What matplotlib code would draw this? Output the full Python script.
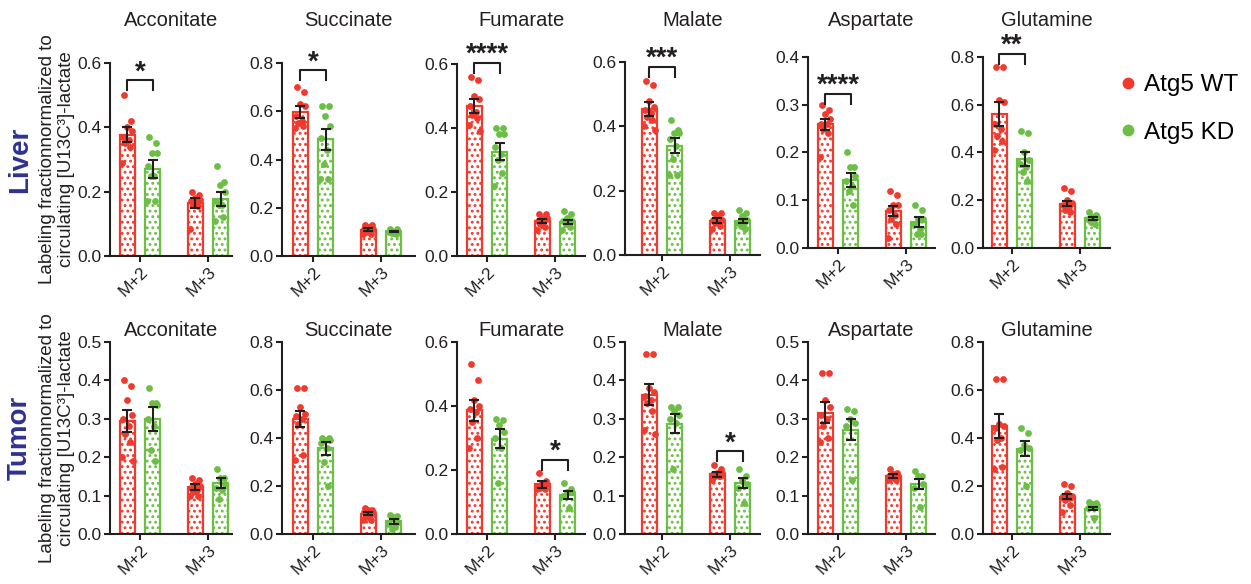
import matplotlib

matplotlib.use("Agg")

import matplotlib.pyplot as plt
from matplotlib.lines import Line2D

WT_COLOR = "#EF3A2D"
KD_COLOR = "#6CBE45"
INK = "#231F20"
ROW_COLOR = "#2E3192"

METABOLITES = ["Acconitate", "Succinate", "Fumarate", "Malate", "Aspartate", "Glutamine"]
ISOTOPOLOGUES = ["M+2", "M+3"]
GROUPS = ["Atg5 WT", "Atg5 KD"]

# ---- Liver: bar means / SEM per metabolite as [M+2, M+3]
LIVER_WT_MEAN = [[0.377, 0.165], [0.595, 0.108], [0.469, 0.110], [0.454, 0.107], [0.259, 0.077], [0.561, 0.185]]
LIVER_WT_SEM = [[0.023, 0.015], [0.025, 0.006], [0.023, 0.007], [0.023, 0.007], [0.011, 0.010], [0.050, 0.010]]
LIVER_KD_MEAN = [[0.271, 0.176], [0.484, 0.102], [0.326, 0.105], [0.340, 0.105], [0.143, 0.054], [0.373, 0.125]]
LIVER_KD_SEM = [[0.028, 0.022], [0.044, 0.003], [0.026, 0.006], [0.024, 0.006], [0.015, 0.011], [0.030, 0.006]]

LIVER_WT_POINTS = [
    [[0.50, 0.42, 0.40, 0.39, 0.37, 0.36, 0.35, 0.34, 0.29], [0.20, 0.19, 0.18, 0.175, 0.17, 0.165, 0.16, 0.155, 0.085]],
    [[0.70, 0.68, 0.63, 0.62, 0.58, 0.56, 0.55, 0.54, 0.53], [0.13, 0.13, 0.12, 0.11, 0.11, 0.10, 0.10, 0.09, 0.09]],
    [[0.56, 0.55, 0.50, 0.49, 0.47, 0.45, 0.44, 0.43, 0.41, 0.39], [0.13, 0.13, 0.12, 0.12, 0.11, 0.11, 0.10, 0.09, 0.08]],
    [[0.54, 0.53, 0.48, 0.46, 0.45, 0.44, 0.43, 0.42, 0.40, 0.39], [0.13, 0.13, 0.12, 0.11, 0.11, 0.10, 0.10, 0.09, 0.08]],
    [[0.30, 0.29, 0.28, 0.27, 0.26, 0.26, 0.25, 0.24, 0.19], [0.12, 0.11, 0.09, 0.09, 0.08, 0.07, 0.06, 0.05, 0.02]],
    [[0.76, 0.76, 0.62, 0.61, 0.52, 0.50, 0.47, 0.45, 0.41], [0.25, 0.24, 0.20, 0.19, 0.18, 0.17, 0.16, 0.15]],
]
LIVER_KD_POINTS = [
    [[0.37, 0.35, 0.32, 0.32, 0.28, 0.25, 0.25, 0.17, 0.17], [0.28, 0.23, 0.22, 0.20, 0.17, 0.16, 0.16, 0.12, 0.11]],
    [[0.62, 0.62, 0.58, 0.54, 0.49, 0.44, 0.38, 0.32, 0.32], [0.11, 0.11, 0.10, 0.10, 0.10, 0.10, 0.095, 0.09]],
    [[0.40, 0.40, 0.38, 0.38, 0.34, 0.32, 0.30, 0.26, 0.22], [0.14, 0.13, 0.12, 0.11, 0.11, 0.10, 0.10, 0.09, 0.08]],
    [[0.42, 0.39, 0.38, 0.38, 0.36, 0.34, 0.30, 0.25, 0.25], [0.14, 0.13, 0.12, 0.11, 0.10, 0.10, 0.09, 0.08]],
    [[0.20, 0.17, 0.17, 0.15, 0.14, 0.13, 0.12, 0.09], [0.09, 0.08, 0.06, 0.06, 0.05, 0.04, 0.03, 0.03]],
    [[0.49, 0.48, 0.40, 0.37, 0.35, 0.34, 0.32, 0.28], [0.15, 0.14, 0.13, 0.13, 0.12, 0.12, 0.11, 0.10]],
]
LIVER_YMAX = [0.6, 0.8, 0.6, 0.6, 0.4, 0.8]
LIVER_YSTEP = [0.2, 0.2, 0.2, 0.2, 0.1, 0.2]
# significance: (isotopologue index, stars, bracket height)
LIVER_SIG = [(0, "*", 0.546), (0, "*", 0.77), (0, "****", 0.604), (0, "***", 0.585), (0, "****", 0.323), (0, "**", 0.814)]

# ---- Tumor
TUMOR_WT_MEAN = [[0.294, 0.122], [0.480, 0.085], [0.386, 0.155], [0.363, 0.155], [0.316, 0.150], [0.450, 0.156]]
TUMOR_WT_SEM = [[0.029, 0.007], [0.033, 0.006], [0.032, 0.010], [0.027, 0.007], [0.028, 0.005], [0.048, 0.010]]
TUMOR_KD_MEAN = [[0.300, 0.133], [0.357, 0.053], [0.298, 0.122], [0.287, 0.132], [0.272, 0.130], [0.356, 0.105]]
TUMOR_KD_SEM = [[0.031, 0.012], [0.027, 0.010], [0.030, 0.012], [0.025, 0.013], [0.027, 0.013], [0.033, 0.006]]

TUMOR_WT_POINTS = [
    [[0.40, 0.385, 0.35, 0.31, 0.30, 0.28, 0.26, 0.24, 0.20, 0.19], [0.145, 0.14, 0.13, 0.125, 0.12, 0.115, 0.11, 0.10, 0.10]],
    [[0.61, 0.61, 0.53, 0.50, 0.49, 0.48, 0.46, 0.33, 0.31], [0.11, 0.10, 0.10, 0.09, 0.09, 0.08, 0.07, 0.06, 0.06]],
    [[0.53, 0.48, 0.42, 0.40, 0.39, 0.38, 0.35, 0.30, 0.27], [0.19, 0.165, 0.16, 0.155, 0.15, 0.15, 0.145, 0.14, 0.14]],
    [[0.47, 0.47, 0.38, 0.37, 0.36, 0.35, 0.34, 0.32, 0.27, 0.26], [0.18, 0.17, 0.16, 0.16, 0.155, 0.15, 0.15, 0.15, 0.14]],
    [[0.42, 0.42, 0.35, 0.33, 0.31, 0.30, 0.28, 0.25, 0.24], [0.17, 0.16, 0.155, 0.15, 0.15, 0.15, 0.145, 0.14, 0.14]],
    [[0.645, 0.645, 0.46, 0.45, 0.44, 0.40, 0.39, 0.28, 0.27], [0.21, 0.20, 0.17, 0.16, 0.16, 0.15, 0.14, 0.12, 0.09]],
]
TUMOR_KD_POINTS = [
    [[0.38, 0.34, 0.34, 0.335, 0.30, 0.28, 0.22, 0.19], [0.17, 0.145, 0.145, 0.13, 0.12, 0.115, 0.09]],
    [[0.40, 0.40, 0.39, 0.39, 0.38, 0.36, 0.30, 0.20], [0.08, 0.075, 0.07, 0.05, 0.04, 0.03, 0.02]],
    [[0.36, 0.355, 0.34, 0.32, 0.30, 0.27, 0.16], [0.16, 0.14, 0.13, 0.13, 0.12, 0.08]],
    [[0.33, 0.33, 0.32, 0.31, 0.30, 0.29, 0.17], [0.17, 0.15, 0.14, 0.13, 0.12, 0.08]],
    [[0.325, 0.32, 0.30, 0.29, 0.28, 0.14], [0.165, 0.15, 0.15, 0.13, 0.12, 0.07]],
    [[0.44, 0.42, 0.37, 0.36, 0.35, 0.20], [0.135, 0.13, 0.125, 0.12, 0.11, 0.065]],
]
TUMOR_YMAX = [0.5, 0.8, 0.6, 0.5, 0.5, 0.8]
TUMOR_YSTEP = [0.1, 0.2, 0.2, 0.1, 0.1, 0.2]
TUMOR_SIG = [None, None, (1, "*", 0.232), (1, "*", 0.215), None, None]

YLABEL = "Labeling fractionnormalized to\ncirculating [U13C\u00b3]-lactate"

# ---- layout (pixels in a 1251 x 584 canvas)
W, H = 1251, 584
COL_PX = [(110, 232), (282, 415), (457, 585), (625, 760), (808, 935), (983, 1110)]
M2_PX = [140, 313, 487, 662, 838, 1012]
PX_PER_UNIT = 68.0
ROW1_PX = [(63, 256), (63, 256), (64, 256), (62, 255), (57, 248), (57, 248)]
ROW2_PX = [(342, 534)] * 6
TITLE_Y = [20, 330]
BAR_W = 0.21
BAR_OFF = 0.185
JITTER = [-0.05, 0.05, -0.01, 0.07, -0.07, 0.02, -0.03, 0.04, -0.08, 0.08]

plt.rcParams["font.family"] = ["Liberation Sans", "DejaVu Sans"]
plt.rcParams["hatch.linewidth"] = 1.3

fig = plt.figure(figsize=(W / 100, H / 100), dpi=100)


def draw_panel(ax, col, wt_mean, wt_sem, kd_mean, kd_sem, wt_pts, kd_pts, ymax, ystep, sig):
    x = list(range(len(ISOTOPOLOGUES)))
    for off, mean, sem, pts, color in [
        (-BAR_OFF, wt_mean, wt_sem, wt_pts, WT_COLOR),
        (BAR_OFF, kd_mean, kd_sem, kd_pts, KD_COLOR),
    ]:
        xs = [xi + off for xi in x]
        ax.bar(xs, mean, width=BAR_W, facecolor="white", edgecolor=color,
               hatch="...", linewidth=1.6, zorder=2)
        for xi, vals in zip(xs, pts):
            jx = [xi + JITTER[i % len(JITTER)] for i in range(len(vals))]
            ax.scatter(jx, vals, s=24, color=color, linewidths=0, zorder=3, clip_on=False)
        ax.errorbar(xs, mean, yerr=sem, fmt="none", ecolor=INK, elinewidth=1.5,
                    capsize=3.5, capthick=1.5, zorder=4)

    if sig is not None:
        idx, stars, yb = sig
        leg = 0.052 * ymax
        x0, x1 = idx - BAR_OFF, idx + BAR_OFF
        ax.plot([x0, x0, x1, x1], [yb - leg, yb, yb, yb - leg], color=INK, lw=1.5,
                clip_on=False, zorder=5)
        ax.text(idx, yb + 0.004 * ymax, stars, ha="center", va="baseline", fontsize=20,
                fontweight="bold", color=INK, clip_on=False)

    left, right = COL_PX[col]
    ax.set_xlim(-(M2_PX[col] - left) / PX_PER_UNIT, (right - M2_PX[col]) / PX_PER_UNIT)
    ax.set_ylim(0, ymax)
    n = int(round(ymax / ystep))
    ticks = [i * ystep for i in range(n + 1)]
    ax.set_yticks(ticks)
    ax.set_yticklabels([f"{t:.1f}" for t in ticks])
    ax.set_xticks(x)
    ax.set_xticklabels(ISOTOPOLOGUES, rotation=45, ha="right", va="top", rotation_mode="anchor")

    for side in ["top", "right"]:
        ax.spines[side].set_visible(False)
    for side in ["left", "bottom"]:
        ax.spines[side].set_linewidth(1.5)
        ax.spines[side].set_color(INK)
    ax.tick_params(direction="out", length=4, width=1.5, colors=INK, labelsize=12.5, pad=2)
    ax.set_facecolor("none")


rows = [
    ("Liver", ROW1_PX, LIVER_WT_MEAN, LIVER_WT_SEM, LIVER_KD_MEAN, LIVER_KD_SEM,
     LIVER_WT_POINTS, LIVER_KD_POINTS, LIVER_YMAX, LIVER_YSTEP, LIVER_SIG),
    ("Tumor", ROW2_PX, TUMOR_WT_MEAN, TUMOR_WT_SEM, TUMOR_KD_MEAN, TUMOR_KD_SEM,
     TUMOR_WT_POINTS, TUMOR_KD_POINTS, TUMOR_YMAX, TUMOR_YSTEP, TUMOR_SIG),
]

for r, (row_name, row_px, wm, ws, km, ks, wp, kp, ymaxes, ysteps, sigs) in enumerate(rows):
    for c, name in enumerate(METABOLITES):
        top, bottom = row_px[c]
        left, right = COL_PX[c]
        ax = fig.add_axes([left / W, 1 - bottom / H, (right - left) / W, (bottom - top) / H])
        draw_panel(ax, c, wm[c], ws[c], km[c], ks[c], wp[c], kp[c], ymaxes[c], ysteps[c], sigs[c])
        fig.text((left + right) / 2 / W, 1 - TITLE_Y[r] / H, name, ha="center", va="center",
                 fontsize=14.5, color=INK)
    yc = (row_px[0][0] + row_px[0][1]) / 2
    fig.text(57 / W, 1 - yc / H, YLABEL, rotation=90, ha="center", va="center",
             fontsize=13.5, color=INK, linespacing=1.1, multialignment="center")
    fig.text(20 / W, 1 - yc / H, row_name, rotation=90, ha="center", va="center",
             fontsize=20, fontweight="bold", color=ROW_COLOR)

handles = [Line2D([], [], ls="none", marker="o", markersize=8.5, color=c, markeredgewidth=0)
           for c in (WT_COLOR, KD_COLOR)]
fig.legend(handles, GROUPS, loc="center left", bbox_to_anchor=(1116 / W, 1 - 109 / H),
           frameon=False, fontsize=17.5, handletextpad=0.15, labelspacing=1.05,
           handlelength=1.0, borderaxespad=0, borderpad=0)

fig.savefig("out.png", dpi=100)
